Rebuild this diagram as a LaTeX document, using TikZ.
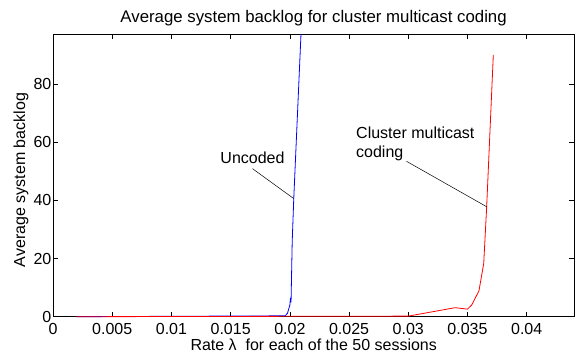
\documentclass[tikz,border=0pt]{standalone}
\usepackage{fontspec}
\setmainfont{Liberation Sans}
\usetikzlibrary{positioning}

\begin{document}
\begin{tikzpicture}[
lbl/.style={inner sep=0pt,font=\fontsize{16}{19}\selectfont},
frame/.style={draw,line width=0.6pt},
tickmark/.style={line width=0.5pt},
uncodedcurve/.style={blue,line width=0.8pt,line join=round},
codedcurve/.style={red,line width=0.8pt,line join=round},
pointer/.style={line width=0.5pt}]
\useasboundingbox (0,0) rectangle (577pt,354pt);
% axes, x in units of 1e-3
\begin{scope}[shift={(53pt,37.3pt)},x=11.8425pt,y=2.909pt]
\coordinate (sw) at (0,0);
\coordinate (ne) at (44.03,97.1);
\draw[frame] (sw) rectangle (ne);
\foreach \t/\s in {0/0,5/0.005,10/0.01,15/0.015,20/0.02,25/0.025,30/0.03,35/0.035,40/0.04}{
  \draw[tickmark] (\t,0) -- ++(0,5pt);
  \draw[tickmark] (\t,97.1) -- ++(0,-5pt);
  \node[lbl,anchor=north,yshift=-6.8pt] (xt\t) at (\t,0) {\s};
}
\foreach \v in {0,20,40,60,80}{
  \draw[tickmark] (0,\v) -- ++(5pt,0);
  \draw[tickmark] (44.03,\v) -- ++(-5pt,0);
  \node[lbl,anchor=east,xshift=-1.5pt] (yt\v) at (0,\v) {\v};
}
% curves
\begin{scope}
\clip (0,-2) rectangle (ne);
\draw[uncodedcurve] (2,0) -- (19.6,0.3) -- (19.8,1.2) -- (20.0,4.0) -- (20.05,6.3)
  -- (20.1,5.0) -- (20.2,26) -- (20.33,40.6) -- (20.96,99);
\draw[codedcurve] (2,0) -- (30,0.2) -- (33.95,3.1) -- (35.0,2.6) -- (35.35,4.0)
  -- (35.97,8.9) -- (36.37,18.3) -- (36.62,37.8) -- (37.18,90);
\end{scope}
\coordinate (uncpt) at (20.33,40.6);
\coordinate (cmcpt) at (36.62,37.8);
\end{scope}
% labels
\node[lbl,font=\fontsize{16.8}{20}\selectfont] (title) at (313.6pt,336.3pt) {Average system backlog for cluster multicast coding};
\node[lbl,anchor=base] (xlab) at (313.7pt,4pt) {Rate λ~ for each of the 50 sessions};
\node[lbl,rotate=90] (ylab) at (21pt,174pt) {Average system backlog};
\node[lbl,anchor=base] (uncoded) at (252.5pt,190.7pt) {Uncoded};
\node[lbl,anchor=base west] (cmc1) at (356pt,215.7pt) {Cluster multicast};
\node[lbl,anchor=base west] (cmc2) at ([yshift=-19.5pt]cmc1.base west) {coding};
\draw[pointer] ([yshift=-5pt]uncoded.south) -- (uncpt);
\draw[pointer] ([xshift=3pt]cmc2.south east) -- (cmcpt);
\end{tikzpicture}
\end{document}
